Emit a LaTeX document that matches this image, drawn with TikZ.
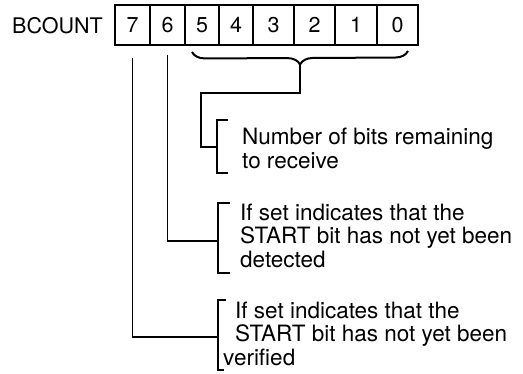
\documentclass[tikz,border=0pt]{standalone}
\usepackage{fontspec}
\setmainfont{TeX Gyre Heros}
\usetikzlibrary{decorations.pathreplacing}

\begin{document}
\begin{tikzpicture}[x=1pt, y=-1pt,
    big/.style={font=\fontsize{21.5}{23.5}\selectfont},
    cell/.style={big, draw, line width=1.2pt, inner sep=0pt, outer sep=0pt, minimum height=40pt},
    conn/.style={line width=1.6pt},
    brk/.style={line width=1.6pt},
    desc/.style={font=\fontsize{22.5}{23.5}\selectfont, align=left, anchor=base west, inner sep=0pt}]

    \useasboundingbox (0,0) rectangle (523,373);

    % Register name and bit cells
    \node[big, anchor=base west, inner sep=0pt] (reg) at (12,33) {BCOUNT};
    \foreach \b/\l/\r in {7/115/150, 6/150/185, 5/185/219, 4/219/253, 3/253/294, 2/294/335, 1/335/377, 0/377/418}
        \node[cell, minimum width=(\r-\l)*1pt] (b\b) at ({(\l+\r)/2},25) {\b};

    % Brace over bits 5..0
    \draw[decorate, decoration={brace, mirror, amplitude=13pt}, line width=2pt] (192,52) -- (408,51);
    \coordinate (brtip) at (300,65);

    % Descriptions (placed at the baseline of their last line)
    \node[desc] (cnt) at (242,168) {Number of bits remaining\\to receive};
    \node[desc] (det) at (240,267) {If set indicates that the\\START bit has not yet been\\detected};
    \node[desc] (ver) at (235,365) {If set indicates that the\\START bit has not yet been\\\hspace*{-12pt}verified};

    % Brackets
    \draw[brk] (228,120) -| (217,173) -- (228,173);
    \draw[brk] (230,203) -| (218,273) -- (230,273);
    \draw[brk] (226,300) -| (218,370) -- (224,370);

    \coordinate (cntin) at (217,147);
    \coordinate (detin) at (218,241);
    \coordinate (verin) at (218,337);

    % Connectors
    \draw[conn] (brtip) -- ++(0,28) -| ++(-99,54) -- (cntin);
    \draw[conn] ([yshift=-10pt]b6.south) |- (detin);
    \draw[conn] ([yshift=-13pt]b7.south) |- (verin);

\end{tikzpicture}
\end{document}
